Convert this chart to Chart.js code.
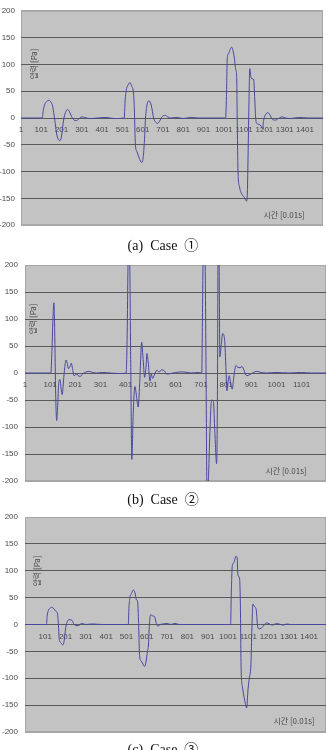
<!DOCTYPE html>
<html>
<head>
<meta charset="utf-8">
<script src="https://cdn.jsdelivr.net/npm/chart.js@4.4.0/dist/chart.umd.min.js"></script>
<style>
  body { margin: 0; background: #fff; }
  #page { position: relative; width: 326px; height: 750px; overflow: hidden; }
  #page canvas { position: absolute; left: 0; }
  .caption { position: absolute; left: 0; width: 326px; text-align: center; font: 14px "Liberation Serif", "Noto Sans CJK KR", serif; color: #111; white-space: pre; }
  .ytitle, .xtitle { position: absolute; font: 8px "Noto Sans CJK KR", sans-serif; color: #4a4a4a; white-space: nowrap; }
  .ytitle { transform: translate(-50%, -50%) rotate(-90deg); }
  .xtitle { transform: translate(-50%, -50%); }
</style>
</head>
<body>
<div id="page">
  <canvas id="case1" width="326" height="236" style="top:0"></canvas>
  <canvas id="case2" width="326" height="246" style="top:250px"></canvas>
  <canvas id="case3" width="326" height="245" style="top:500px"></canvas>

  <div class="ytitle" style="left:33px; top:64px">압력 [Pa]</div>
  <div class="xtitle" style="left:284px; top:214px">시간 [0.01s]</div>
  <div class="caption" style="top:234px">(a)  Case  ①</div>

  <div class="ytitle" style="left:32px; top:319px">압력 [Pa]</div>
  <div class="xtitle" style="left:286px; top:470px">시간 [0.01s]</div>
  <div class="caption" style="top:488px">(b)  Case  ②</div>

  <div class="ytitle" style="left:36px; top:571px">압력 [Pa]</div>
  <div class="xtitle" style="left:294px; top:720px">시간 [0.01s]</div>
  <div class="caption" style="top:738px">(c)  Case  ③</div>
</div>

<script>
// Time steps [0.01s] and pressure [Pa]
const case1Time = [1, 106, 110, 118, 128, 138, 148, 157, 162, 168, 176, 185, 192, 200, 207, 214, 222, 231, 240, 250, 260, 272, 285, 300, 315, 340, 380, 420, 460,
  510, 514, 520, 527, 538, 546, 556, 560, 565, 572, 584, 596, 603, 610, 615, 622, 632, 643, 655, 665, 674, 684, 698, 712, 725, 740, 770, 800, 840, 880,
  1010, 1014, 1018, 1024, 1032, 1040, 1046, 1053, 1060, 1064, 1068, 1071, 1078, 1090, 1102, 1113, 1117, 1121, 1125, 1129, 1134, 1140, 1148, 1153, 1158,
  1163, 1175, 1185, 1192, 1197, 1205, 1218, 1228, 1240, 1255, 1270, 1288, 1305, 1330, 1370, 1420, 1490];
const case1Pressure = [0, 0, 12, 25, 31, 33, 30, 22, 10, -5, -28, -40, -42, -36, -15, 2, 12, 16, 12, 3, -3, -5, -2, 2, 1, -1, 0, 1, -1,
  0, 30, 52, 60, 66, 60, 45, 15, -50, -62, -75, -83, -75, -40, 0, 24, 32, 24, 0, -8, -10, -6, 3, 5, 2, 0, 1, -1, 1, 0,
  0, 40, 112, 120, 128, 132, 126, 112, 90, 80, -30, -100, -128, -142, -148, -155, -140, -60, 30, 92, 78, 73, 72, 40, 0,
  -10, -12, -15, -20, -5, 5, 10, 6, -2, -4, -1, 2, 0, -1, 1, 0, 0];

const case2Time = [1, 104, 108, 113, 116, 119, 123, 127, 131, 135, 140, 145, 149, 154, 159, 164, 169, 174, 180, 185, 190, 196, 202, 208, 215, 222, 230, 240, 255, 270, 285, 310, 340, 380,
  403, 407, 410, 414, 418, 421, 426, 431, 438, 445, 451, 457, 465, 470, 477, 482, 486, 491, 498, 503, 508, 515, 525, 535, 545, 555, 565, 580, 600, 630, 660, 690,
  704, 707, 712, 717, 721, 724, 727, 731, 737, 743, 750, 756, 763, 766, 770, 773, 776, 781, 787, 795, 800, 804, 809, 813, 819, 825, 832, 840, 848, 856, 864, 872,
  882, 895, 910, 922, 940, 962, 1000, 1050, 1100, 1140, 1200];
const case2Pressure = [0, 0, 40, 110, 130, 80, -40, -88, -60, -20, -12, -30, -40, -15, 10, 24, 18, 8, 12, 18, 8, -5, -3, -2, -6, -6, -2, 1, 3, 1, 0, 1, 0, -1,
  0, 60, 180, 290, 190, 40, -160, -80, -25, -45, -63, -20, 57, 30, -8, 10, 36, 20, -15, -2, -10, -4, 5, 2, 6, 4, -2, -1, 1, 2, 0, 1,
  0, 120, 320, 220, 0, -200, -240, -190, -100, -50, -52, -110, -168, -60, 320, 200, 30, 50, 73, 60, 10, -33, -15, -5, -20, -30, -5, 14, 10, 10, 12, 5,
  -5, -3, 1, 3, 1, 0, 1, 0, 1, 0, 0];

const case3Time = [1, 107, 110, 116, 124, 132, 142, 152, 160, 165, 170, 178, 187, 194, 202, 210, 218, 232, 240, 250, 265, 280, 300, 330, 380,
  510, 513, 518, 526, 534, 542, 550, 556, 560, 566, 574, 590, 598, 604, 609, 614, 620, 630, 640, 648, 656, 668, 682, 700, 720, 740, 760,
  1014, 1017, 1022, 1030, 1040, 1046, 1050, 1058, 1062, 1066, 1072, 1082, 1093, 1100, 1106, 1114, 1118, 1124, 1130, 1140, 1146, 1152, 1165, 1175,
  1190, 1205, 1220, 1240, 1260, 1275, 1290, 1310, 1484];
const case3Pressure = [0, 0, 15, 26, 30, 32, 30, 25, 22, 5, -28, -34, -38, -30, -5, 6, 9, 8, 2, -2, -2, 2, 0, 1, 0,
  0, 30, 50, 58, 64, 60, 46, 42, 10, -60, -68, -78, -68, -50, -40, 0, 18, 16, 14, 2, -3, 0, 1, 2, 0, 2, 0,
  0, 50, 108, 115, 127, 125, 92, 86, 40, -85, -115, -138, -155, -120, -100, -75, -20, 38, 34, 28, 0, -8, -7, -3,
  3, 1, -1, 2, 0, -1, 1, 0, 0];

const yTicks = [-200, -150, -100, -50, 0, 50, 100, 150, 200];
const case1XTicks = [1, 101, 201, 301, 401, 501, 601, 701, 801, 901, 1001, 1101, 1201, 1301, 1401];
const case2XTicks = [1, 101, 201, 301, 401, 501, 601, 701, 801, 901, 1001, 1101];
const case3XTicks = [101, 201, 301, 401, 501, 601, 701, 801, 901, 1001, 1101, 1201, 1301, 1401];

const tickFont = { family: "'Liberation Sans Narrow', 'Liberation Sans', sans-serif", size: 8 };

// Gray plot area with a light frame, like the old Excel charts
const plotBackground = {
  id: "plotBackground",
  beforeDraw(chart) {
    const { ctx, chartArea: a } = chart;
    ctx.save();
    ctx.fillStyle = "#c3c3c3";
    ctx.fillRect(a.left, a.top, a.right - a.left, a.bottom - a.top);
    ctx.strokeStyle = "#a6a6a6";
    ctx.lineWidth = 1;
    ctx.strokeRect(a.left + 0.5, a.top + 0.5, a.right - a.left - 1, a.bottom - a.top - 1);
    ctx.restore();
  }
};

function makeChart(id, times, values, xTicks, xMax, axisWidth, labelPad, padding) {
  return new Chart(document.getElementById(id), {
    type: "line",
    data: {
      datasets: [{
        data: times.map((t, i) => ({ x: t, y: values[i] })),
        borderColor: "#4848a0",
        borderWidth: 1,
        pointRadius: 0,
        cubicInterpolationMode: "monotone",
        fill: false
      }]
    },
    options: {
      responsive: false,
      animation: false,
      events: [],
      layout: { padding },
      plugins: { legend: { display: false }, tooltip: { enabled: false } },
      scales: {
        x: {
          type: "linear",
          min: 1,
          max: xMax,
          position: { y: 0 },
          afterBuildTicks: (s) => { s.ticks = xTicks.map((v) => ({ value: v })); },
          grid: { display: false, drawTicks: false },
          border: { display: false },
          ticks: {
            autoSkip: false, maxRotation: 0, padding: 7, font: tickFont, color: "#4a4a4a",
            callback: (v) => String(v)
          }
        },
        y: {
          min: -200,
          max: 200,
          afterBuildTicks: (s) => { s.ticks = yTicks.map((v) => ({ value: v })); },
          afterFit: (s) => { s.width = axisWidth; },
          grid: {
            drawTicks: false,
            color: (c) => (Math.abs(c.tick.value) === 200 ? "#a6a6a6" : "#5a5a5a")
          },
          border: { display: false },
          ticks: { padding: labelPad, font: tickFont, color: "#4a4a4a", callback: (v) => String(v) }
        }
      }
    },
    plugins: [plotBackground]
  });
}

makeChart("case1", case1Time, case1Pressure, case1XTicks, 1490, 21, 6, { top: 10, right: 3, bottom: 10, left: 0 });
makeChart("case2", case2Time, case2Pressure, case2XTicks, 1198, 25, 7, { top: 15, right: 0, bottom: 15, left: 0 });
makeChart("case3", case3Time, case3Pressure, case3XTicks, 1484, 25, 7, { top: 17, right: 0, bottom: 13, left: 0 });
</script>
</body>
</html>
